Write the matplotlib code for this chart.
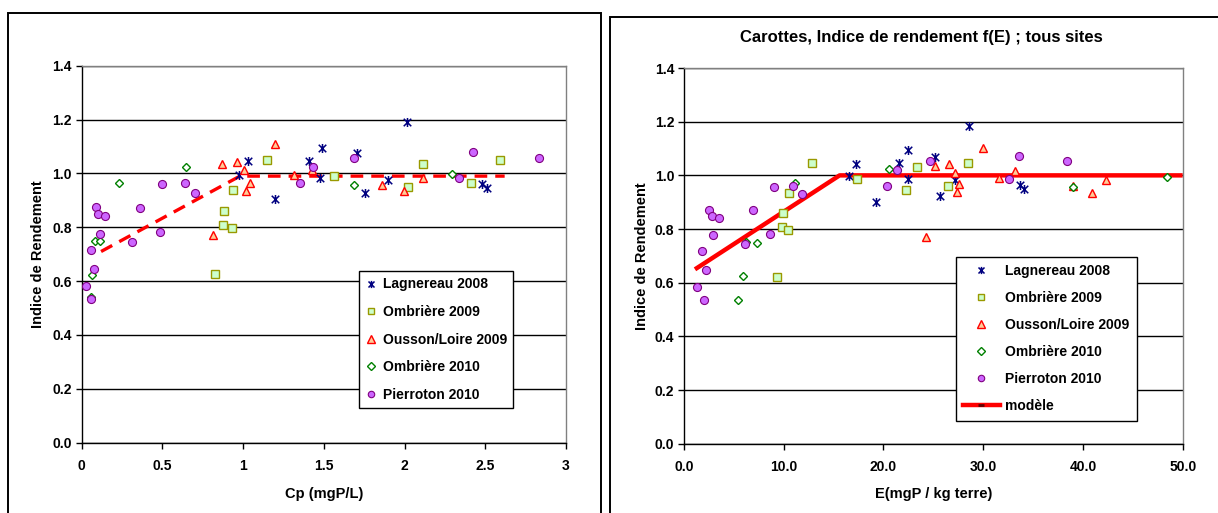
import numpy as np
import matplotlib
matplotlib.use("Agg")
import matplotlib.pyplot as plt
from matplotlib.path import Path
from matplotlib.patches import Rectangle
from matplotlib.lines import Line2D

plt.rcParams['font.family'] = ['Liberation Sans', 'DejaVu Sans']
plt.rcParams['font.weight'] = 'bold'

# --- data ---
series_names = ["Lagnereau 2008", "Ombrière 2009", "Ousson/Loire 2009",
                "Ombrière 2010", "Pierroton 2010"]

# left panel: Cp (mgP/L)
lag_cp = [1.031, 0.977, 1.199, 1.408, 1.488, 1.478, 1.708, 1.753, 1.898, 2.012, 2.480, 2.509]
lag_ir_cp = [1.046, 0.994, 0.905, 1.046, 1.093, 0.983, 1.075, 0.926, 0.975, 1.190, 0.961, 0.946]
omb09_cp = [0.828, 0.876, 0.882, 0.929, 0.938, 1.149, 1.565, 2.020, 2.112, 2.412, 2.592]
omb09_ir_cp = [0.625, 0.810, 0.862, 0.796, 0.938, 1.051, 0.990, 0.948, 1.036, 0.966, 1.050]
ous_cp = [0.811, 0.867, 0.960, 1.008, 1.041, 1.016, 1.196, 1.312, 1.424, 1.863, 1.996, 2.116]
ous_ir_cp = [0.770, 1.034, 1.042, 1.013, 0.963, 0.936, 1.108, 0.995, 1.013, 0.956, 0.935, 0.982]
omb10_cp = [0.234, 0.648, 0.081, 0.114, 0.066, 0.058, 1.689, 2.294]
omb10_ir_cp = [0.964, 1.024, 0.749, 0.749, 0.623, 0.542, 0.958, 0.998]
pier_cp = [0.027, 0.058, 0.058, 0.075, 0.091, 0.099, 0.145, 0.114, 0.310, 0.364,
           0.482, 0.499, 0.640, 0.704, 1.352, 1.432, 1.689, 2.339, 2.422, 2.830]
pier_ir_cp = [0.582, 0.532, 0.716, 0.646, 0.874, 0.850, 0.841, 0.776, 0.744, 0.873,
              0.782, 0.959, 0.964, 0.926, 0.966, 1.025, 1.056, 0.984, 1.078, 1.056]
model_cp = [0.12, 0.98, 2.62]
model_ir_cp = [0.71, 0.99, 0.99]

# right panel: E (mgP / kg terre)
lag_e = [16.55, 17.22, 19.29, 21.57, 22.50, 22.50, 25.14, 25.68, 27.21, 28.62, 33.73, 34.13]
lag_ir_e = [0.999, 1.041, 0.902, 1.047, 1.094, 0.986, 1.069, 0.923, 0.982, 1.185, 0.963, 0.948]
omb09_e = [12.80, 10.56, 9.90, 9.80, 10.43, 9.30, 17.35, 22.27, 23.34, 26.48, 28.52]
omb09_ir_e = [1.047, 0.935, 0.861, 0.807, 0.797, 0.621, 0.987, 0.946, 1.031, 0.961, 1.047]
ous_e = [24.24, 25.14, 26.55, 27.21, 27.62, 27.35, 29.98, 31.63, 33.20, 39.05, 40.90, 42.33]
ous_ir_e = [0.770, 1.035, 1.041, 1.009, 0.966, 0.939, 1.103, 0.991, 1.016, 0.960, 0.934, 0.983]
omb10_e = [11.13, 5.89, 5.39, 7.32, 6.20, 20.56, 39.05, 48.40]
omb10_ir_e = [0.970, 0.626, 0.536, 0.748, 0.750, 1.025, 0.955, 0.994]
pier_e = [1.34, 1.97, 1.84, 2.24, 2.51, 2.78, 3.54, 2.91, 6.15, 6.92,
          8.60, 9.03, 10.97, 11.87, 20.33, 21.40, 24.64, 32.57, 33.60, 38.40]
pier_ir_e = [0.584, 0.536, 0.717, 0.647, 0.871, 0.850, 0.840, 0.776, 0.744, 0.871,
             0.781, 0.955, 0.961, 0.929, 0.961, 1.020, 1.052, 0.987, 1.073, 1.052]
model_e = [1.1, 15.6, 50.0]
model_ir_e = [0.65, 1.0, 1.0]

y_ticks = [0.0, 0.2, 0.4, 0.6, 0.8, 1.0, 1.2, 1.4]
cp_ticks = [0, 0.5, 1, 1.5, 2, 2.5, 3]
cp_tick_labels = ["0", "0.5", "1", "1.5", "2", "2.5", "3"]
e_ticks = [0, 10, 20, 30, 40, 50]

# Excel style "star" marker: an x with a vertical bar
star = Path([(-1, -1), (1, 1), (-1, 1), (1, -1), (0, -1.2), (0, 1.2)],
            [Path.MOVETO, Path.LINETO] * 3)

styles = [
    dict(marker=star, ms=6.5, mfc='none', mec='#000080', mew=1.1),
    dict(marker='s', ms=5.4, mfc='#CCFFCC', mec='#999900', mew=1.0),
    dict(marker='^', ms=6.4, mfc='#FFCC99', mec='#FF0000', mew=1.0),
    dict(marker='D', ms=4.5, mfc='white', mec='#008000', mew=1.0),
    dict(marker='o', ms=5.8, mfc='#CC66FF', mec='#800080', mew=0.8),
]

TICK_FS = 10
LEG_FS = 10
LAB_FS = 10.5

W, H = 1218, 513
fig = plt.figure(figsize=(W / 100, H / 100), dpi=100)


def setup_axes(ax, xlim, xticks, xlabels):
    ax.set_xlim(*xlim)
    ax.set_ylim(0, 1.4)
    ax.set_yticks(y_ticks)
    ax.set_yticklabels([f"{v:.1f}" for v in y_ticks])
    ax.set_xticks(xticks)
    ax.set_xticklabels(xlabels)
    ax.tick_params(axis='y', length=4, width=1, pad=3, labelsize=TICK_FS)
    ax.tick_params(axis='x', length=4, width=1, pad=8, labelsize=TICK_FS)
    ax.set_axisbelow(True)
    ax.yaxis.grid(True, color='black', lw=1)
    for s in ('left', 'bottom'):
        ax.spines[s].set_color('black')
        ax.spines[s].set_linewidth(1)
    for s in ('top', 'right'):
        ax.spines[s].set_color('#808080')
        ax.spines[s].set_linewidth(1)


def draw_series(ax, xs, ys):
    for (x, y), st in zip(zip(xs, ys), styles):
        ax.plot(x, y, ls='none', zorder=3, **st)


# left panel
ax1 = fig.add_axes([81.7 / W, 1 - 442.7 / H, (566 - 81.7) / W, 377 / H])
setup_axes(ax1, (0, 3), cp_ticks, cp_tick_labels)
ax1.plot(model_cp, model_ir_cp, color='#FF0000', lw=2.4, ls=(0, (3.8, 2.4)), zorder=2)
draw_series(ax1, [lag_cp, omb09_cp, ous_cp, omb10_cp, pier_cp],
            [lag_ir_cp, omb09_ir_cp, ous_ir_cp, omb10_ir_cp, pier_ir_cp])
ax1.set_xlabel("Cp (mgP/L)", fontsize=LAB_FS, fontweight='bold', va='center')
ax1.xaxis.set_label_coords(0.5, -0.136)
ax1.set_ylabel("Indice de Rendement", fontsize=LAB_FS, fontweight='bold', va='center')
ax1.yaxis.set_label_coords(-0.09, 0.5)

handles1 = [Line2D([], [], ls='none', **dict(st, ms=st['ms'] * 0.8)) for st in styles]
leg1 = ax1.legend(handles1, series_names, loc='upper left', bbox_to_anchor=(0.573, 0.455),
                  borderaxespad=0, fancybox=False, edgecolor='black', framealpha=1,
                  prop=dict(size=LEG_FS, weight='bold'), handlelength=0.8,
                  handletextpad=0.45, labelspacing=0.98, borderpad=0.45)
leg1.get_frame().set_linewidth(1)

# right panel
ax2 = fig.add_axes([684 / W, 1 - 443.8 / H, (1182.7 - 684) / W, 375.8 / H])
setup_axes(ax2, (0, 50), e_ticks, [f"{v:.1f}" for v in e_ticks])
ax2.plot(model_e, model_ir_e, color='#FF0000', lw=3.2, zorder=2, clip_on=False,
         solid_capstyle='butt')
draw_series(ax2, [lag_e, omb09_e, ous_e, omb10_e, pier_e],
            [lag_ir_e, omb09_ir_e, ous_ir_e, omb10_ir_e, pier_ir_e])
ax2.set_xlabel("E(mgP / kg terre)", fontsize=LAB_FS, fontweight='bold', va='center')
ax2.xaxis.set_label_coords(0.5, -0.133)
ax2.set_ylabel("Indice de Rendement", fontsize=LAB_FS, fontweight='bold', va='center')
ax2.yaxis.set_label_coords(-0.085, 0.5)
ax2.set_title("Carottes, Indice de rendement f(E) ; tous sites", fontsize=12,
              fontweight='bold', x=0.475, y=1.06, va='center')

handles2 = [Line2D([], [], ls='none', **dict(st, ms=st['ms'] * 0.8)) for st in styles]
handles2.append(Line2D([], [], color='#FF0000', lw=3.2, marker='_', ms=5,
                       mec='#600000', mew=2))
leg2 = ax2.legend(handles2, series_names + ["modèle"], loc='upper left',
                  bbox_to_anchor=(0.545, 0.498), borderaxespad=0, fancybox=False,
                  edgecolor='black', framealpha=1, prop=dict(size=LEG_FS, weight='bold'),
                  handlelength=2.6, handletextpad=0.4, labelspacing=0.93, borderpad=0.55)
leg2.get_frame().set_linewidth(1)

# outer chart frames
fig.add_artist(Rectangle((8 / W, -0.1), (601 - 8) / W, 0.1 + (1 - 12.7 / H),
                         transform=fig.transFigure, fill=False, ec='black', lw=1.4))
fig.add_artist(Rectangle((609.7 / W, -0.1), 0.6, 0.1 + (1 - 16.7 / H),
                         transform=fig.transFigure, fill=False, ec='black', lw=1.4))

fig.savefig("out.png", dpi=100)
